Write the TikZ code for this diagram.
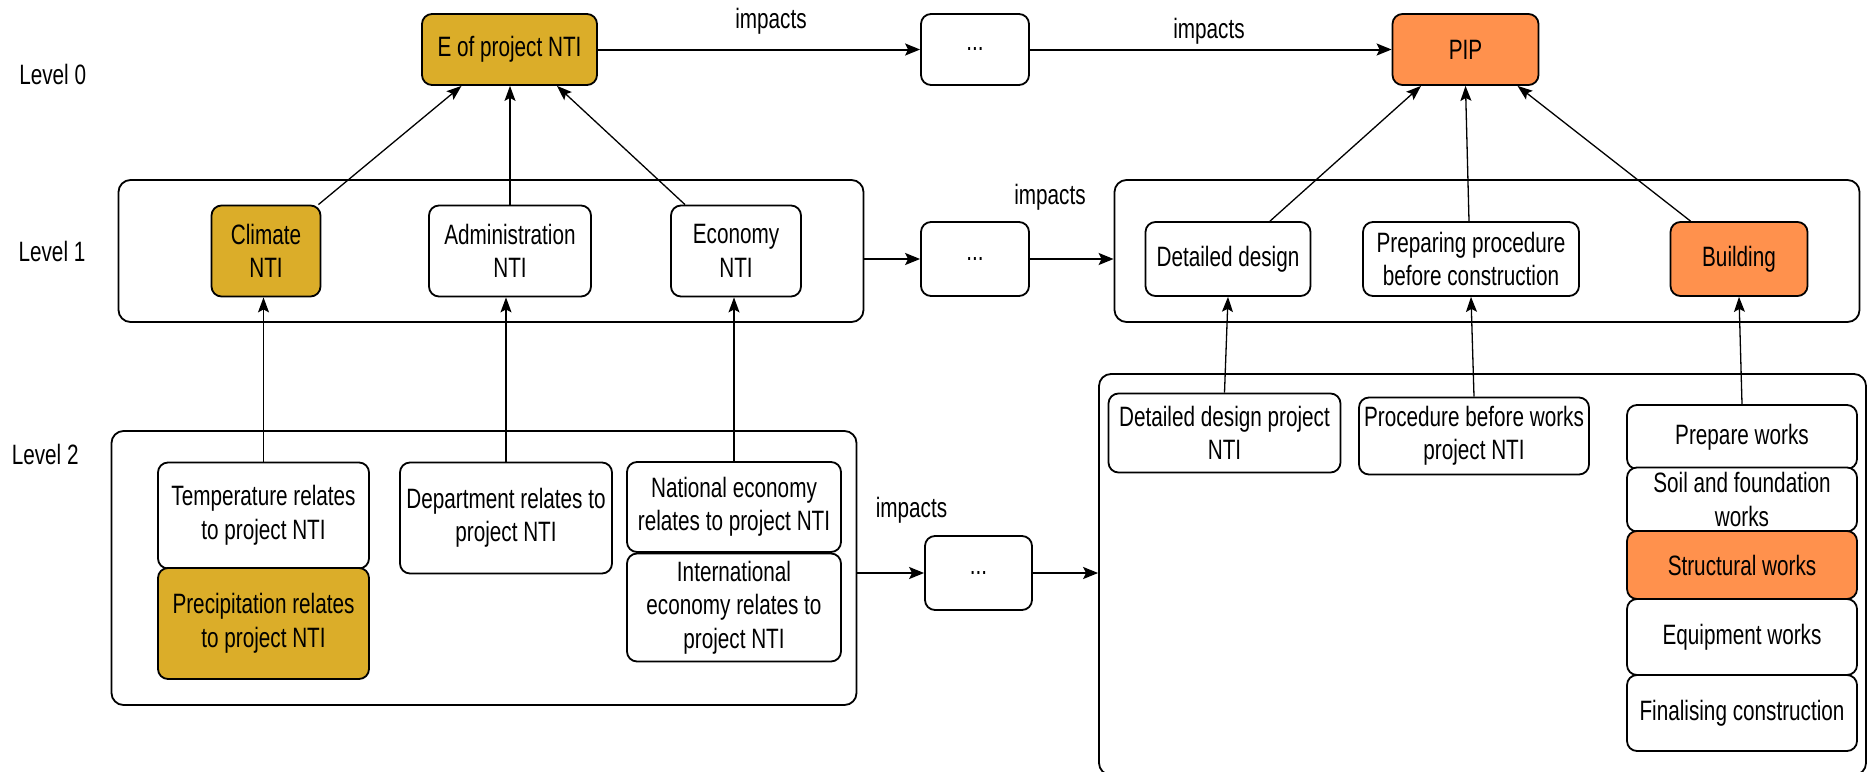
\documentclass[tikz,border=0pt]{standalone}
\usepackage{fontspec}
\setmainfont{Liberation Sans}[FakeStretch=0.74]
\usetikzlibrary{arrows.meta,calc}
\definecolor{goldfill}{HTML}{DBAD29}
\definecolor{orangefill}{HTML}{FF914D}
\begin{document}
\begin{tikzpicture}[x=1pt,y=-1pt,
  every node/.style={font=\fontsize{28}{33.5}\selectfont},
  box/.style={draw=black, line width=1.8pt, rounded corners=10pt, fill=white, align=center, inner sep=0pt},
  gold/.style={box, fill=goldfill},
  orng/.style={box, fill=orangefill},
  container/.style={draw=black, line width=1.8pt, rounded corners=12pt, inner sep=0pt},
  lbl/.style={inner sep=0pt},
  up/.style={line width=1.3pt, -{Stealth[length=15pt,width=11pt,inset=3pt]}},
  imp/.style={line width=2pt, -{Stealth[length=15pt,width=12pt,inset=3pt]}},
]
\useasboundingbox (0,0) rectangle (1868,771);
% containers
\begin{scope}
\clip (0,0) rectangle (1868,771);
\node[container, minimum width=767pt, minimum height=401pt] (C2R) at (1482.5,574.5) {};
\end{scope}
\node[container, minimum width=745pt, minimum height=142pt] (C1L) at (491,251) {};
\node[container, minimum width=745pt, minimum height=142pt] (C1R) at (1487,251) {};
\node[container, minimum width=745pt, minimum height=274pt] (C2L) at (484,568) {};

% level labels
\node[lbl] (L0) at (52.7,74) {Level 0};
\node[lbl] (L1) at (52,251) {Level 1};
\node[lbl] (L2) at (45.2,454) {Level 2};

% level 0
\node[gold, minimum width=175pt, minimum height=71pt] (E) at (509.5,49.5) {E of project NTI};
\node[box, minimum width=108pt, minimum height=71pt] (D0) at (975,49.5) {...};
\node[orng, minimum width=146pt, minimum height=71pt] (PIP) at (1465.5,49.5) {PIP};

% level 1
\node[gold, minimum width=109pt, minimum height=91pt] (Clim) at (266,251) {Climate\\NTI};
\node[box, minimum width=162pt, minimum height=91pt] (Adm) at (510,251) {Administration\\NTI};
\node[box, minimum width=130pt, minimum height=91pt] (Eco) at (736,251) {Economy\\NTI};
\node[box, minimum width=108pt, minimum height=74pt] (D1) at (975,259) {...};
\node[box, minimum width=165pt, minimum height=74pt] (DD) at (1228,259) {Detailed design};
\node[box, minimum width=216pt, minimum height=74pt] (PP) at (1471,259) {Preparing procedure\\before construction};
\node[orng, minimum width=137pt, minimum height=74pt] (Bld) at (1739,259) {Building};

% level 2
\node[box, minimum width=211pt, minimum height=106pt] (Temp) at (263.5,515.5) {Temperature relates\\to project NTI};
\node[gold, minimum width=211pt, minimum height=111pt] (Prec) at (263.5,623.5) {Precipitation relates\\to project NTI};
\node[box, minimum width=212pt, minimum height=111pt] (Dep) at (506,518) {Department relates to\\project NTI};
\node[box, minimum width=214pt, minimum height=90pt] (Nat) at (734,507) {National economy\\relates to project NTI};
\node[box, minimum width=214pt, minimum height=108pt] (Int) at (734,607.5) {International\\economy relates to\\project NTI};
\node[box, minimum width=107pt, minimum height=74pt] (D2) at (978.5,573) {...};
\node[box, minimum width=232pt, minimum height=79pt] (DDP) at (1224.5,433) {Detailed design project\\NTI};
\node[box, minimum width=230pt, minimum height=77pt] (PBW) at (1474,436) {Procedure before works\\project NTI};
\node[box, minimum width=230pt, minimum height=64pt] (PW) at (1742,437) {Prepare works};
\node[box, minimum width=230pt, minimum height=64pt] (Soil) at (1742,499.5) {Soil and foundation\\works};
\node[orng, minimum width=230pt, minimum height=68pt] (Str) at (1742,565) {Structural works};
\node[box, minimum width=230pt, minimum height=76pt] (Eq) at (1742,637) {Equipment works};
\node[box, minimum width=230pt, minimum height=76pt] (Fin) at (1742,713) {Finalising construction};

% impacts labels
\node[lbl] (i1) at (771,21) {impacts};
\node[lbl] (i2) at (1209,31) {impacts};
\node[lbl] (i3) at (1050,197.5) {impacts};
\node[lbl] (i4) at (911.5,510) {impacts};

% horizontal arrows
\draw[imp] (E.east) -- (D0.west);
\draw[imp] (D0.east) -- (PIP.west);
\draw[imp] (C1L.east |- D1.west) -- (D1.west);
\draw[imp] (D1.east) -- (D1.east -| C1R.west);
\draw[imp] (C2L.east |- D2.west) -- (D2.west);
\draw[imp] (D2.east) -- (D2.east -| C2R.west);

% level 2 -> level 1
\draw[up] (Temp.north) -- (Temp.north |- Clim.south);
\draw[up] (Dep.north) -- (Dep.north |- Adm.south);
\draw[up] (Nat.north) -- (Nat.north |- Eco.south);
\draw[up] (DDP.north) -- (DD.south);
\draw[up] (PBW.north) -- (PP.south);
\draw[up] (PW.north) -- (Bld.south);

% level 1 -> level 0
\draw[up] ([xshift=-3pt]Clim.north east) -- ([xshift=-48pt]E.south);
\draw[up] (Adm.north) -- (Adm.north |- E.south);
\draw[up] ([xshift=-51pt]Eco.north) -- ([xshift=47.5pt]E.south);
\draw[up] ([xshift=42pt]DD.north) -- ([xshift=-44.5pt]PIP.south);
\draw[up] ([xshift=-2pt]PP.north) -- (PIP.south);
\draw[up] ([xshift=-48.5pt]Bld.north) -- ([xshift=52pt]PIP.south);
\end{tikzpicture}
\end{document}
